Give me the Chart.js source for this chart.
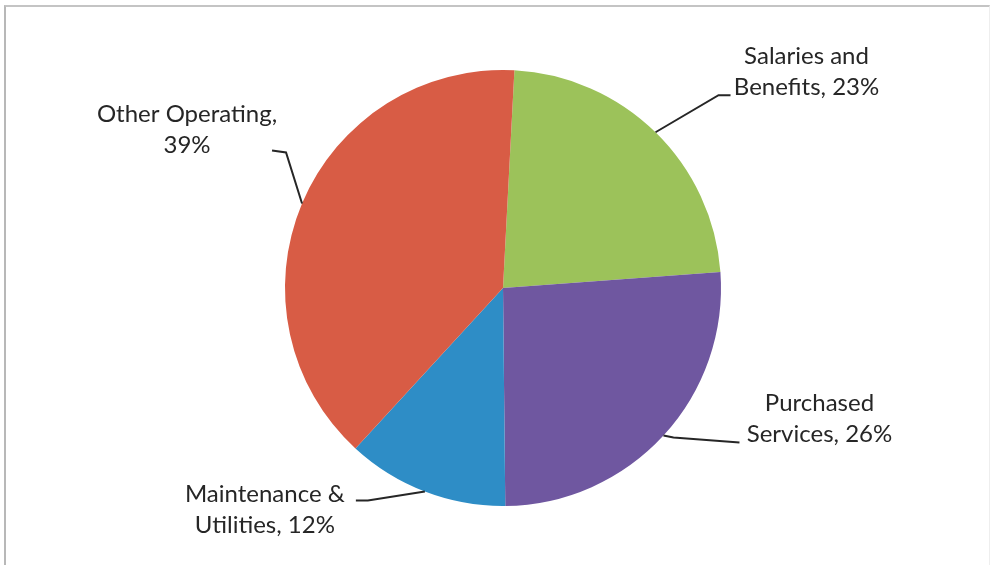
<!DOCTYPE html>
<html>
<head>
<meta charset="utf-8">
<script src="https://cdn.jsdelivr.net/npm/chart.js@4.4.0/dist/chart.umd.min.js"></script>
<style>
html,body{margin:0;padding:0;background:#fff;}
#wrap{position:relative;width:993px;height:568px;}
#frame{position:absolute;left:4px;top:5px;width:986px;height:560px;border-left:2px solid #b8b8b8;border-top:2px solid #c4c4c4;border-right:1px solid #eeeeee;box-sizing:border-box;}
canvas{position:absolute;left:0;top:0;}
</style>
</head>
<body>
<div id="wrap"><div id="frame"></div><canvas id="c" width="993" height="568"></canvas></div>
<script>
const categories = ["Salaries and Benefits", "Purchased Services", "Maintenance & Utilities", "Other Operating"];
const values = [23, 26, 12, 39];
const labelLines = [["Salaries and", "Benefits, 23%"], ["Purchased", "Services, 26%"], ["Maintenance &", "Utilities, 12%"], ["Other Operating,", "39%"]];
const colors = ["#9cc25a", "#6f57a0", "#2e8dc6", "#d85c45"];

// label text centre offsets (relative to slice anchor) and leader line geometry
const labelStyle = [
  {dx: 151, dy: -60, elbow: [63, -37], end: [75, -37]},
  {dx: 156, dy: -17, elbow: [10, 2], end: [76, 7]},
  {dx: -160, dy: 18, elbow: [-57, 9], end: [-69, 9]},
  {dx: -115, dy: -74, elbow: [-16, -51], end: [-30, -53]}
];

const labelPlugin = {
  id: 'sliceLabels',
  afterDatasetsDraw(chart) {
    const ctx = chart.ctx;
    const meta = chart.getDatasetMeta(0);
    ctx.save();
    ctx.font = '24px Lato, "Open Sans", sans-serif';
    ctx.fillStyle = '#262626';
    ctx.textAlign = 'center';
    ctx.textBaseline = 'middle';
    meta.data.forEach((arc, i) => {
      const p = arc.getProps(['x', 'y', 'startAngle', 'endAngle', 'outerRadius'], true);
      const mid = (p.startAngle + p.endAngle) / 2;
      const ax = p.x + Math.cos(mid) * p.outerRadius;
      const ay = p.y + Math.sin(mid) * p.outerRadius;
      const s = labelStyle[i];
      ctx.strokeStyle = '#262626';
      ctx.lineWidth = 2;
      ctx.beginPath();
      ctx.moveTo(ax, ay);
      ctx.lineTo(ax + s.elbow[0], ay + s.elbow[1]);
      ctx.lineTo(ax + s.end[0], ay + s.end[1]);
      ctx.stroke();
      const lines = labelLines[i];
      const cx = ax + s.dx, cy = ay + s.dy;
      const lh = 31;
      lines.forEach((t, k) => {
        ctx.fillText(t, cx, cy + (k - (lines.length - 1) / 2) * lh);
      });
    });
    ctx.restore();
  }
};

new Chart(document.getElementById('c'), {
  type: 'pie',
  data: {
    labels: categories,
    datasets: [{
      data: values,
      backgroundColor: colors,
      borderWidth: 0
    }]
  },
  options: {
    responsive: false,
    animation: false,
    rotation: 3,
    layout: {padding: {top: 70, bottom: 62, left: 285, right: 272}},
    plugins: {legend: {display: false}, tooltip: {enabled: false}}
  },
  plugins: [labelPlugin]
});
</script>
</body>
</html>
